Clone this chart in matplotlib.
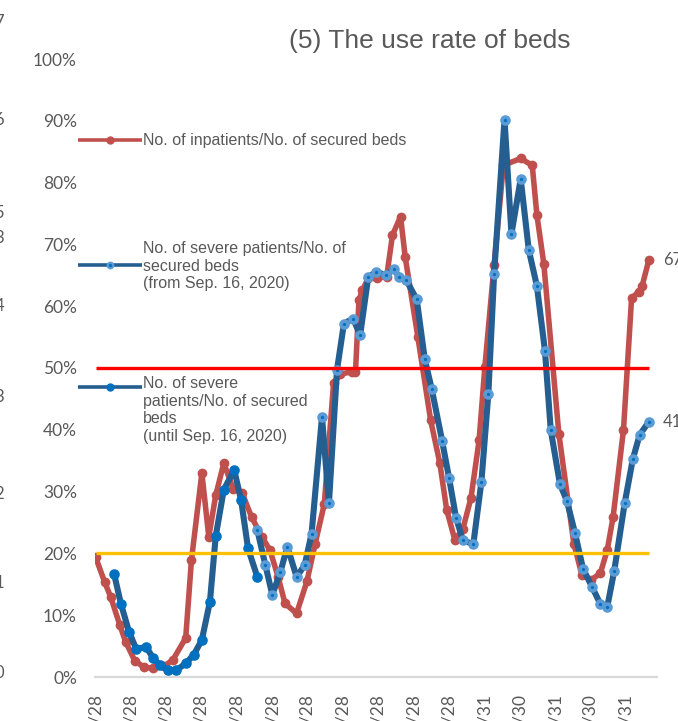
import matplotlib
matplotlib.use("Agg")
import matplotlib.pyplot as plt
from matplotlib.lines import Line2D
from matplotlib.ticker import FuncFormatter, MultipleLocator
import pandas as pd

# ---- data -------------------------------------------------------------
inpatient_dates = [
    "2020-04-28", "2020-05-06", "2020-05-11", "2020-05-19", "2020-05-24",
    "2020-06-01", "2020-06-09", "2020-06-17", "2020-06-26", "2020-07-04",
    "2020-07-15", "2020-07-20", "2020-07-29", "2020-08-04", "2020-08-10",
    "2020-08-17", "2020-08-25", "2020-09-02", "2020-09-10", "2020-09-19",
    "2020-09-26", "2020-10-03", "2020-10-09", "2020-10-19", "2020-10-28",
    "2020-11-04", "2020-11-12", "2020-11-20", "2020-11-26", "2020-12-06",
    "2020-12-09", "2020-12-12", "2020-12-15", "2020-12-20", "2020-12-28",
    "2021-01-05", "2021-01-10", "2021-01-17", "2021-01-21", "2021-02-01",
    "2021-02-12", "2021-02-20", "2021-02-26", "2021-03-05", "2021-03-12",
    "2021-03-19", "2021-03-26", "2021-03-31", "2021-04-08", "2021-04-16",
    "2021-05-01", "2021-05-11", "2021-05-15", "2021-05-21", "2021-06-03",
    "2021-06-16", "2021-06-23", "2021-07-01", "2021-07-09", "2021-07-15",
    "2021-07-20", "2021-07-29", "2021-08-05", "2021-08-11", "2021-08-14",
    "2021-08-20",
]
inpatient_rate = [
    19.4, 15.3, 13.0, 8.4, 5.7,
    2.6, 1.6, 1.4, 1.7, 2.8,
    6.3, 18.9, 33.0, 22.7, 29.4,
    34.6, 30.5, 29.7, 25.9, 22.7,
    20.5, 16.2, 11.9, 10.3, 15.5,
    21.5, 28.0, 47.5, 49.0, 49.4,
    49.4, 61.0, 62.6, 64.5, 64.5,
    64.8, 71.5, 74.5, 68.0, 55.0,
    41.6, 34.6, 27.0, 22.2, 24.0,
    29.0, 38.3, 50.2, 66.7, 82.8,
    83.9, 82.8, 74.8, 66.9, 39.4,
    21.6, 16.5, 15.7, 16.8, 20.6,
    25.9, 40.0, 61.3, 62.3, 63.2,
    67.5,
]

severe_old_dates = [
    "2020-05-14", "2020-05-20", "2020-05-27", "2020-06-02", "2020-06-11",
    "2020-06-17", "2020-06-23", "2020-06-30", "2020-07-07", "2020-07-15",
    "2020-07-22", "2020-07-29", "2020-08-05", "2020-08-10", "2020-08-17",
    "2020-08-26", "2020-09-01", "2020-09-07", "2020-09-15",
]
severe_old_rate = [
    16.7, 11.8, 7.3, 4.6, 4.8,
    3.0, 1.9, 1.1, 1.1, 2.2,
    3.6, 6.0, 12.2, 22.8, 30.3,
    33.5, 28.6, 20.8, 16.2,
]

severe_new_dates = [
    "2020-09-15", "2020-09-22", "2020-09-28", "2020-10-05", "2020-10-11",
    "2020-10-19", "2020-10-26", "2020-11-01", "2020-11-10", "2020-11-16",
    "2020-11-23", "2020-11-29", "2020-12-07", "2020-12-13", "2020-12-20",
    "2020-12-27", "2021-01-04", "2021-01-11", "2021-01-16", "2021-01-22",
    "2021-01-31", "2021-02-07", "2021-02-13", "2021-02-22", "2021-02-28",
    "2021-03-06", "2021-03-12", "2021-03-21", "2021-03-28", "2021-04-03",
    "2021-04-08", "2021-04-17", "2021-04-23", "2021-05-01", "2021-05-08",
    "2021-05-15", "2021-05-22", "2021-05-27", "2021-06-04", "2021-06-10",
    "2021-06-17", "2021-06-24", "2021-07-02", "2021-07-09", "2021-07-15",
    "2021-07-21", "2021-07-30", "2021-08-06", "2021-08-12", "2021-08-20",
]
severe_new_rate = [
    23.8, 18.1, 13.3, 17.0, 21.1,
    16.2, 18.1, 23.2, 42.1, 28.1,
    49.7, 57.2, 58.0, 55.3, 64.7,
    65.6, 65.0, 66.0, 64.7, 64.2,
    61.1, 51.4, 46.6, 38.2, 32.2,
    25.8, 22.1, 21.5, 31.6, 45.8,
    65.2, 90.2, 71.7, 80.6, 69.1,
    63.3, 52.8, 40.0, 31.2, 28.5,
    23.3, 17.5, 14.5, 11.8, 11.4,
    17.2, 28.1, 35.2, 39.2, 41.3,
]

alert_level = 50
caution_level = 20

tick_dates = [
    "2020-04-28", "2020-05-28", "2020-06-28", "2020-07-28", "2020-08-28",
    "2020-09-28", "2020-10-28", "2020-11-28", "2020-12-28", "2021-01-28",
    "2021-02-28", "2021-03-31", "2021-04-30", "2021-05-31", "2021-06-30",
    "2021-07-31",
]
axis_end = "2021-08-27"

label_inpatient = "No. of inpatients/No. of secured beds"
label_new = "No. of severe patients/No. of\nsecured beds\n(from Sep. 16, 2020)"
label_old = "No. of severe\npatients/No. of secured\nbeds\n(until Sep. 16, 2020)"
title = "(5) The use rate of beds"

# digits of the neighbouring panel's axis, clipped by the left border
neighbour_digits = ["7", "6", "5", "3", "4", "3", "2", "1", "0"]
neighbour_digit_y = [22, 120, 213, 238, 306, 397, 494, 583, 673]

# ---- styling ----------------------------------------------------------
RED = "#C0504D"
BLUE = "#255E91"
BLUE_DOT = "#0070C0"
BLUE_RING = "#5B9BD5"
GREY_TXT = "#595959"
LABEL_FONT = ["Liberation Sans", "DejaVu Sans"]
TICK_FONT = ["Lato", "DejaVu Sans"]

W, H = 678, 721
fig = plt.figure(figsize=(W / 100, H / 100), dpi=100)
fig.patch.set_facecolor("white")


def fx(x):
    return x / W


def fy(y):
    return 1 - y / H


ax = fig.add_axes([fx(95), fy(677), (657 - 95) / W, (677 - 59) / H])

d_in = pd.to_datetime(inpatient_dates)
d_old = pd.to_datetime(severe_old_dates)
d_new = pd.to_datetime(severe_new_dates)

ax.plot(d_in, inpatient_rate, color=RED, lw=4.0, marker="o", ms=6.0,
        mfc=RED, mec=RED, solid_joinstyle="round", solid_capstyle="round",
        zorder=3)
ax.plot(d_old, severe_old_rate, color=BLUE, lw=4.4, marker="o", ms=6.6,
        mfc=BLUE_DOT, mec=BLUE_DOT, solid_joinstyle="round",
        solid_capstyle="round", zorder=4)
ax.plot(d_new, severe_new_rate, color=BLUE, lw=4.4, marker="o", ms=5.0,
        mfc=BLUE_DOT, mec=BLUE_RING, mew=2.6, solid_joinstyle="round",
        solid_capstyle="round", zorder=4)

span = [d_in[0], d_in[-1]]
ax.plot(span, [alert_level] * 2, color="#FF0000", lw=2.4, zorder=5,
        solid_capstyle="butt")
ax.plot(span, [caution_level] * 2, color="#FFC000", lw=2.4, zorder=5,
        solid_capstyle="butt")

# value labels at the series ends
for dates, vals in ((d_in, inpatient_rate), (d_new, severe_new_rate)):
    ax.annotate(f"{vals[-1]:.1f}%", xy=(dates[-1], vals[-1]),
                xytext=(10, 0), textcoords="offset points", ha="left",
                va="center", fontsize=12, family=TICK_FONT, color=GREY_TXT,
                annotation_clip=False)

ax.set_ylim(0, 100)
ax.set_xlim(d_in[0] - pd.Timedelta(hours=12), pd.Timestamp(axis_end))
ax.yaxis.set_major_locator(MultipleLocator(10))
ax.yaxis.set_major_formatter(FuncFormatter(lambda v, _: f"{v:.0f}%"))

ticks = pd.to_datetime(tick_dates)
ax.set_xticks(ticks)
ax.set_xticklabels([f"{t.year}/{t.month}/{t.day}" for t in ticks],
                   rotation=90, va="top", ha="center")

for s in ("top", "right", "left"):
    ax.spines[s].set_visible(False)
ax.spines["bottom"].set_color("#D9D9D9")
ax.spines["bottom"].set_linewidth(1.6)
ax.spines["bottom"].set_zorder(1)
ax.tick_params(axis="both", length=0, colors=GREY_TXT, labelsize=12.5)
ax.tick_params(axis="y", pad=13)
ax.tick_params(axis="x", pad=12)
for lab in ax.get_xticklabels() + ax.get_yticklabels():
    lab.set_family(TICK_FONT)
ax.set_facecolor("none")

# ---- title ------------------------------------------------------------
fig.text(fx(430), fy(41), title, ha="center", va="center", fontsize=19,
         family=LABEL_FONT, color=GREY_TXT)

# ---- legend entries ---------------------------------------------------
def legend_entry(y, color, lw, mfc, mec, ms, mew, text, text_y):
    fig.add_artist(Line2D([fx(78), fx(142)], [fy(y), fy(y)], color=color,
                          lw=lw, solid_capstyle="butt"))
    fig.add_artist(Line2D([fx(110)], [fy(y)], marker="o", ms=ms, mfc=mfc,
                          mec=mec, mew=mew, lw=0))
    fig.text(fx(143), fy(text_y), text, ha="left", va="center",
             fontsize=11.5, family=LABEL_FONT, color=GREY_TXT,
             linespacing=1.2)


legend_entry(140, RED, 2.6, RED, RED, 5.0, 1.0, label_inpatient, 141)
legend_entry(265, BLUE, 2.6, BLUE_DOT, BLUE_RING, 4.0, 1.6, label_new, 266)
legend_entry(387, BLUE, 2.6, BLUE_DOT, BLUE_DOT, 5.0, 1.0, label_old, 410)

# ---- clipped fragments of neighbouring labels ------------------------
for digit, y in zip(neighbour_digits, neighbour_digit_y):
    fig.text(fx(4), fy(y), digit, ha="right", va="center", fontsize=12,
             family=TICK_FONT, color=GREY_TXT)
fig.text(fx(308), fy(-3), "1", ha="center", va="center", rotation=90,
         fontsize=8, family=TICK_FONT, color="#999999")

fig.savefig("out.png", dpi=100)
